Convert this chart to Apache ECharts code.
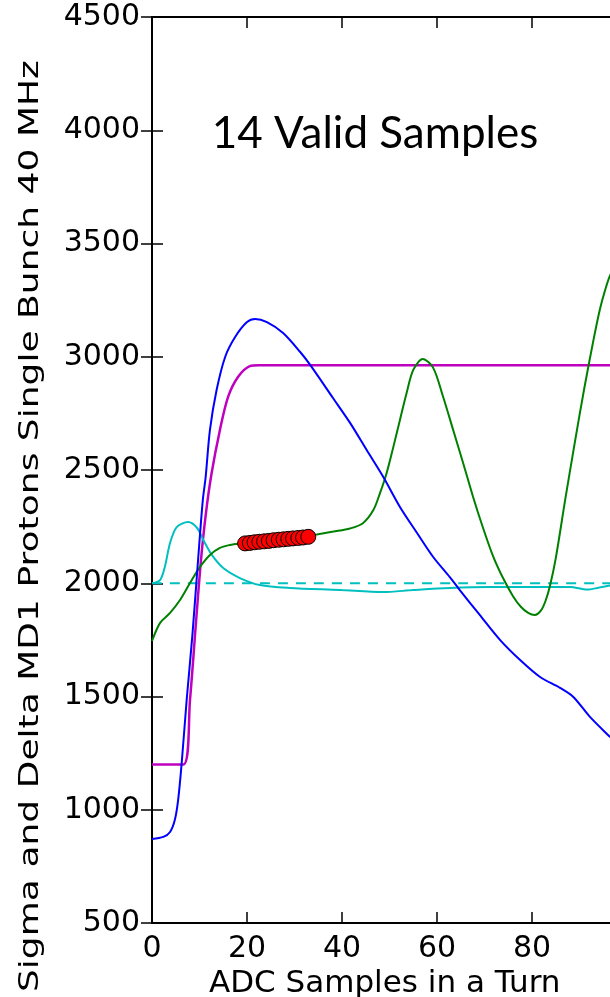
<!DOCTYPE html>
<html>
<head>
<meta charset="utf-8">
<script src="https://cdn.jsdelivr.net/npm/echarts@6/dist/echarts.min.js"></script>
<style>
html,body{margin:0;padding:0;background:#fff;}
#chart{width:610px;height:997px;}
</style>
</head>
<body>
<div id="chart"></div>
<script>
// ---- data ----
var xTickValues = [0, 20, 40, 60, 80];
var yTickValues = [500, 1000, 1500, 2000, 2500, 3000, 3500, 4000, 4500];
var xAxisTitle = 'ADC Samples in a Turn';
var yAxisTitle = 'Sigma and Delta MD1 Protons Single Bunch 40 MHz';
var annotation = '14 Valid Samples';

var sigmaBlue = [[0,871],[2.4,880],[3.8,902],[4.8,955],[5.5,1043],[6.25,1206],[7.3,1485],[8.5,1770],[9.7,2103],[10.7,2368],[11.3,2470],[12.2,2677],[13.6,2853],[15.4,2999],[17.5,3087],[20,3153],[21.7,3167],[24.2,3153],[27.6,3105],[31.2,3021],[33.3,2964],[38.1,2818],[41.7,2708],[45.2,2588],[48.7,2469],[52.2,2337],[55.8,2222],[59.2,2116],[62.7,2027],[64.8,1970],[69,1860],[73.3,1749],[77.5,1661],[81.7,1586],[85.9,1538],[88.7,1498],[92.2,1410],[96.4,1322],[98,1290]];

var stepMagenta = [[0,1200],[6.6,1200],[8.0,1485],[9.3,1838],[10.3,2100],[11.3,2300],[12.5,2480],[14.3,2677],[16,2822],[18.1,2911],[20.6,2959],[22.5,2963],[98,2963]];

var deltaCyan = [[0,2000],[1.7,2014],[2.7,2072],[3.8,2178],[5.2,2248],[7.6,2270],[9.5,2244],[10.8,2191],[12.6,2125],[15,2067],[18.5,2023],[22.7,1992],[29,1979],[39.6,1970],[48.6,1961],[55,1970],[62.7,1979],[71,1983],[79.6,1983],[88,1983],[91.6,1972],[94,1980],[96.4,1990],[98,1993]];

var baselineCyan = [[0,2000],[98,2000]];

var signalGreen = [[0,1745],[1.7,1825],[3.8,1869],[5.9,1926],[8,2001],[10.1,2072],[12.2,2125],[14.3,2156],[16.4,2169],[18.5,2176],[20,2179],[25,2189],[30,2199],[34.7,2215],[38.2,2228],[41.7,2242],[44.4,2265],[46.6,2323],[48,2398],[49.4,2487],[50.8,2601],[52.2,2721],[53.6,2840],[55,2942],[57,2990],[59.2,2951],[61.3,2822],[63.4,2677],[65.5,2531],[67.6,2381],[69.7,2244],[71.8,2120],[73.9,2023],[76,1943],[77.7,1895],[79.2,1869],[80.6,1860],[81.9,1880],[82.9,1925],[83.8,1990],[85,2110],[87,2370],[89,2620],[91,2860],[93,3080],[94.3,3210],[95.4,3295],[96.4,3357],[98,3420]];

var validX = [19.6,20.6,21.6,22.6,23.6,24.6,25.6,26.7,27.7,28.7,29.7,30.8,31.8,32.9];
var validY = [2176,2178,2181,2183,2185,2187,2190,2192,2194,2196,2198,2200,2202,2205];

// ---- chart ----
var validPts = validX.map(function(x,i){return [x, validY[i]];});
var chart = echarts.init(document.getElementById('chart'), null, {renderer:'canvas'});
var axisLine = {show:true, lineStyle:{color:'#000', width:2}};
var tick = {show:true, inside:true, length:11, lineStyle:{color:'#000', width:1.5}};
var lab = {color:'#000', fontFamily:'DejaVu Sans', fontSize:30};
function lineSeries(data, color, width, type, z){
  return {type:'line', data:data, showSymbol:false, symbol:'none', smooth:0.3,
    lineStyle:{color:color, width:width, type:type||'solid'}, z:z||2, silent:true, animation:false};
}
chart.setOption({
  animation:false,
  backgroundColor:'#fff',
  grid:{left:152, top:17, right:-7.5, bottom:74, containLabel:false, outerBoundsMode:'none'},
  xAxis:[{type:'value', min:0, max:98, interval:20, position:'bottom',
    axisLine:axisLine, axisTick:tick, splitLine:{show:false},
    axisLabel:Object.assign({margin:11, showMaxLabel:false, formatter:function(v){return xTickValues.indexOf(v)>=0?String(v):'';}}, lab),
    name:xAxisTitle, nameLocation:'middle', nameGap:38,
    nameTextStyle:{color:'#000', fontFamily:'DejaVu Sans', fontSize:31}},
   {type:'value', min:0, max:98, interval:20, position:'top',
    axisLine:axisLine, axisTick:tick, axisLabel:{show:false}, splitLine:{show:false}}],
  yAxis:[{type:'value', min:500, max:4500, interval:500, position:'left',
    axisLine:axisLine, axisTick:tick, splitLine:{show:false},
    axisLabel:Object.assign({margin:12, formatter:function(v){return yTickValues.indexOf(v)>=0?String(v):'';}}, lab)},
   {type:'value', min:500, max:4500, interval:500, position:'right',
    axisLine:axisLine, axisTick:tick, axisLabel:{show:false}, splitLine:{show:false}}],
  series:[
    lineSeries(sigmaBlue, '#0000ff', 2, 'solid', 3),
    lineSeries(stepMagenta, '#bf00bf', 2.5, 'solid', 2),
    lineSeries(deltaCyan, '#00bfbf', 2, 'solid', 2),
    lineSeries(baselineCyan, '#00bfbf', 2, [10,8], 2),
    lineSeries(signalGreen, '#008000', 2, 'solid', 2),
    {type:'scatter', data:validPts, symbol:'circle', symbolSize:15, z:5,
     itemStyle:{color:'#ff0000', borderColor:'#000', borderWidth:1, opacity:1}, silent:true}
  ],
  graphic:[
    {type:'text', x:31, y:526, rotation:Math.PI/2, scaleX:1.287, scaleY:0.95, z:10,
     style:{text:yAxisTitle, font:'28px "DejaVu Sans", sans-serif', fill:'#000', textAlign:'center', textVerticalAlign:'middle'}},
    {type:'text', x:375, y:134, z:10,
     style:{text:annotation, font:'44px Lato, "Open Sans", sans-serif', fill:'#000', textAlign:'center', textVerticalAlign:'middle'}}
  ]
});
</script>
</body>
</html>
